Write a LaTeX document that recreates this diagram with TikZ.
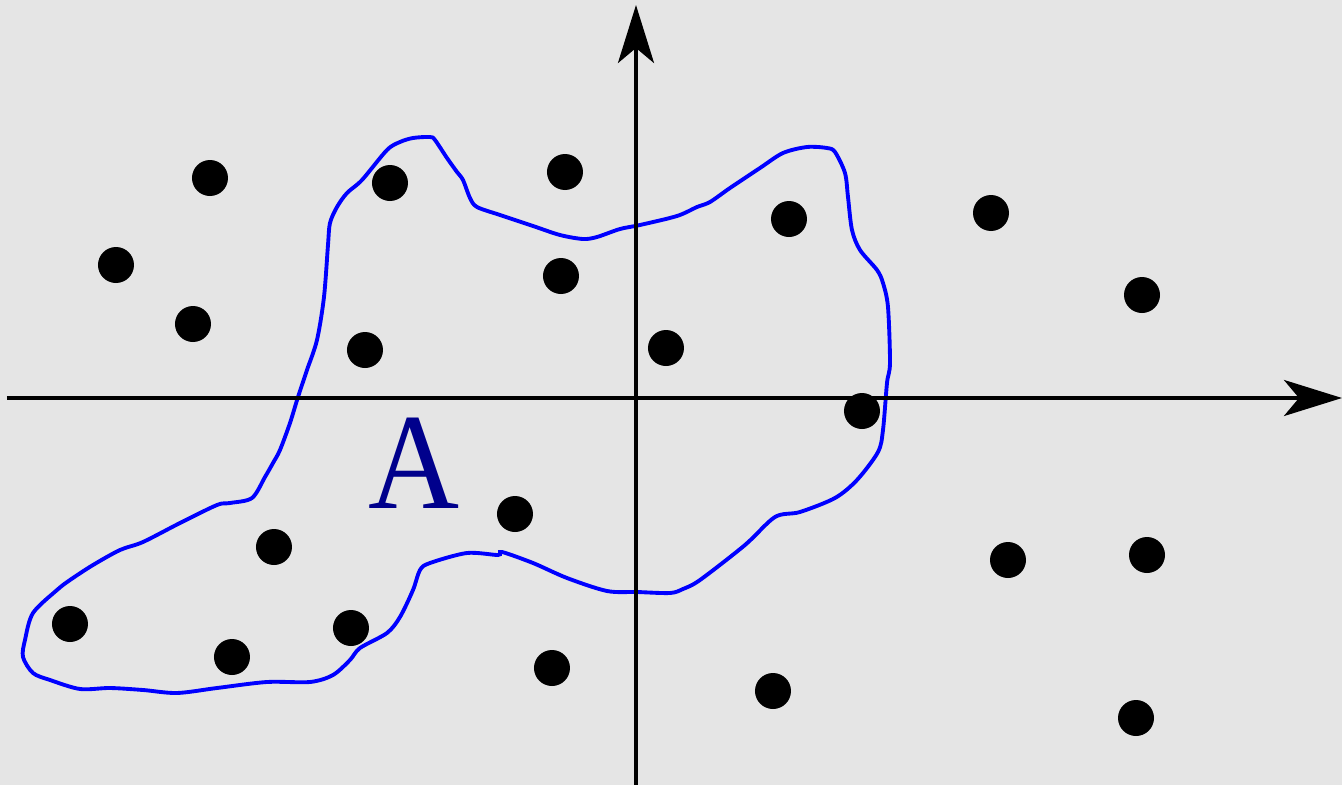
\documentclass[tikz,border=0pt]{standalone}
\usepackage{fontspec}
\usepackage{tikz}
\usetikzlibrary{arrows.meta}
\newfontfamily\labelfont{Liberation Serif}
\definecolor{Paper}{HTML}{E5E5E5}
\definecolor{SetBlue}{HTML}{0000FF}
\definecolor{SetNavy}{HTML}{00008C}
\tikzset{
  axis/.style={line width=1.1pt, -{Stealth[length=5.8mm, width=3.6mm, inset=1.5mm]}},
  point/.style={circle, fill=black, inner sep=0pt, minimum size=0.36cm},
  region/.style={draw=SetBlue, line width=1.1pt}
}

\begin{document}
\begin{tikzpicture}
  % background and frame
  \fill[Paper] (-6.36,-3.87) rectangle (7.06,3.98);
  \useasboundingbox (-6.36,-3.87) rectangle (7.06,3.98);

  % the set A
  \draw[region] plot[smooth cycle, tension=0.5] coordinates {
    (-6.13,-2.59) (-6.03,-2.75) (-5.86,-2.82) (-5.56,-2.91) (-5.26,-2.90)
    (-4.93,-2.92) (-4.59,-2.95) (-4.19,-2.90) (-3.69,-2.84) (-3.26,-2.84)
    (-3.03,-2.77) (-2.86,-2.62) (-2.76,-2.50) (-2.49,-2.35) (-2.36,-2.19)
    (-2.23,-1.92) (-2.16,-1.72) (-2.06,-1.65) (-1.69,-1.55) (-1.38,-1.57)
    (-1.34,-1.54) (-1.03,-1.65) (-0.69,-1.80) (-0.29,-1.93) (0.01,-1.94)
    (0.34,-1.95) (0.47,-1.91) (0.64,-1.82) (1.09,-1.47) (1.39,-1.19)
    (1.64,-1.14) (1.99,-1.00) (2.21,-0.82) (2.42,-0.54) (2.47,-0.32)
    (2.51,0.15) (2.54,0.35) (2.52,0.91) (2.47,1.15) (2.41,1.28)
    (2.24,1.48) (2.16,1.68) (2.12,2.01) (2.09,2.25) (1.99,2.46)
    (1.91,2.50) (1.71,2.51) (1.47,2.45) (1.24,2.30) (0.94,2.10)
    (0.74,1.96) (0.61,1.91) (0.41,1.82) (0.04,1.73) (-0.16,1.69)
    (-0.39,1.61) (-0.53,1.59) (-0.76,1.63) (-1.03,1.72) (-1.36,1.83)
    (-1.59,1.91) (-1.66,2.00) (-1.73,2.18) (-1.79,2.26) (-1.89,2.40)
    (-2.01,2.58) (-2.06,2.61) (-2.23,2.60) (-2.36,2.56) (-2.49,2.48)
    (-2.74,2.18) (-2.89,2.05) (-2.99,1.91) (-3.06,1.75) (-3.08,1.53)
    (-3.12,1.01) (-3.19,0.58) (-3.29,0.28) (-3.38,0.01) (-3.46,-0.25)
    (-3.56,-0.52) (-3.63,-0.65) (-3.71,-0.79) (-3.84,-1.00) (-4.06,-1.05)
    (-4.19,-1.07) (-4.56,-1.25) (-4.93,-1.44) (-5.16,-1.52) (-5.43,-1.67)
    (-5.66,-1.82) (-5.79,-1.92) (-6.03,-2.15) (-6.11,-2.42)};

  % axes
  \coordinate (xstart) at (-6.29,0);
  \coordinate (xend) at (7.06,0);
  \coordinate (ystart) at (0,-3.87);
  \coordinate (yend) at (0,3.93);
  \draw[axis] (xstart) -- (xend);
  \draw[axis] (ystart) -- (yend);

  % sample points
  \foreach \px/\py [count=\i] in {
      -4.26/2.20, -5.20/1.33, -4.43/0.74, -2.46/2.15, -2.71/0.48,
      -0.71/2.26, -0.75/1.22, 0.30/0.50, 1.53/1.79, 3.55/1.85,
      5.06/1.03, 2.26/-0.13, -1.21/-1.16, -3.62/-1.49, 3.72/-1.62,
      5.11/-1.57, -5.66/-2.26, -4.04/-2.59, -2.85/-2.30, -0.84/-2.70,
      1.37/-2.93, 5.00/-3.20}
    \node[point] (p\i) at (\px,\py) {};

  \node[text=SetNavy, inner sep=0pt, xscale=0.92] (setA) at (-2.22,-0.65)
    {\labelfont\fontsize{39}{39}\selectfont A};
\end{tikzpicture}
\end{document}
